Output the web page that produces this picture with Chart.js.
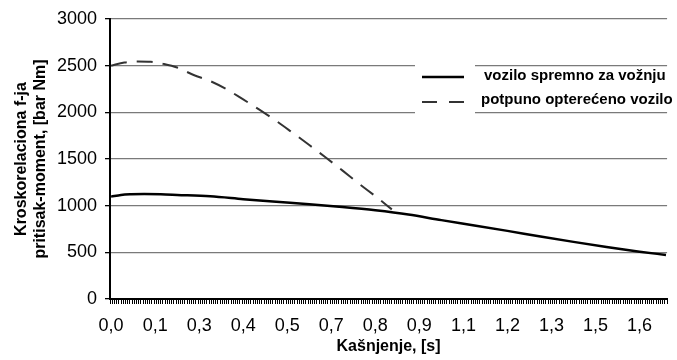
<!DOCTYPE html>
<html>
<head>
<meta charset="utf-8">
<script src="https://cdn.jsdelivr.net/npm/chart.js@4/dist/chart.umd.min.js"></script>
<style>
  html, body { margin: 0; padding: 0; background: #fff; }
  #wrap { width: 677px; height: 360px; }
</style>
</head>
<body>
<div id="wrap"><canvas id="corr"></canvas></div>
<script>
// Cross-correlation of pressure vs. moment over lag time
const seriesNames = ['vozilo spremno za vožnju', 'potpuno opterećeno vozilo'];

// vehicle ready to drive (solid)
const readyTime  = [0, 0.03, 0.06, 0.10, 0.15, 0.20, 0.30, 0.40, 0.50, 0.60, 0.70, 0.80, 0.90, 1.00, 1.10, 1.20, 1.30, 1.40, 1.50, 1.60, 1.68];
const readyValue = [1097, 1115, 1122, 1125, 1122, 1115, 1100, 1070, 1042, 1015, 985, 950, 905, 845, 788, 730, 670, 612, 557, 507, 472];

// fully loaded vehicle (dashed)
const loadedTime  = [0, 0.04, 0.08, 0.12, 0.16, 0.20, 0.25, 0.30, 0.35, 0.40, 0.45, 0.50, 0.55, 0.60, 0.65, 0.70, 0.75, 0.80, 0.85];
const loadedValue = [2500, 2533, 2545, 2542, 2518, 2480, 2400, 2335, 2246, 2138, 2026, 1908, 1780, 1650, 1516, 1378, 1237, 1102, 960];

// lag axis: samples every 1/150 s, a label on every 20th sample
const xTickLabels = ['0,0', '0,1', '0,3', '0,4', '0,5', '0,7', '0,8', '0,9', '1,1', '1,2', '1,3', '1,5', '1,6'];
const sampleStep = 1 / 150;
const sampleCount = 253;
const labelEvery = 20;
const yTicks = [0, 500, 1000, 1500, 2000, 2500, 3000];

const sampleLabels = [];
for (let i = 0; i < sampleCount; i++) {
  sampleLabels.push(i % labelEvery === 0 ? xTickLabels[i / labelEvery] : '');
}

const toPoints = (xs, ys) => xs.map((x, i) => ({ x: x, y: ys[i] }));

const FONT = "'Liberation Sans', Arial, sans-serif";

// legend sits inside the plot, on a white patch over the grid
const legendPlugin = {
  id: 'insideLegend',
  afterDraw(chart) {
    const ctx = chart.ctx;
    ctx.save();
    ctx.fillStyle = '#fff';
    ctx.fillRect(415, 60, 60, 58);

    ctx.strokeStyle = '#000';
    ctx.lineWidth = 2.5;
    ctx.beginPath();
    ctx.moveTo(422, 77);
    ctx.lineTo(464, 77);
    ctx.stroke();

    ctx.strokeStyle = '#333';
    ctx.lineWidth = 2;
    ctx.setLineDash([15, 12]);
    ctx.beginPath();
    ctx.moveTo(422, 102);
    ctx.lineTo(464, 102);
    ctx.stroke();
    ctx.setLineDash([]);

    ctx.fillStyle = '#000';
    ctx.font = 'bold 15px ' + FONT;
    ctx.textBaseline = 'middle';
    ctx.fillText(seriesNames[0], 484, 76);
    ctx.fillText(seriesNames[1], 481, 100);
    ctx.restore();
  }
};

new Chart(document.getElementById('corr'), {
  type: 'line',
  data: {
    datasets: [
      {
        label: seriesNames[0],
        data: toPoints(readyTime, readyValue),
        borderColor: '#000',
        borderWidth: 2.5,
        pointRadius: 0,
        cubicInterpolationMode: 'monotone',
        xAxisID: 'x'
      },
      {
        label: seriesNames[1],
        data: toPoints(loadedTime, loadedValue),
        borderColor: '#333',
        borderWidth: 2,
        borderDash: [16, 10],
        pointRadius: 0,
        cubicInterpolationMode: 'monotone',
        xAxisID: 'x'
      }
    ]
  },
  options: {
    responsive: true,
    maintainAspectRatio: false,
    animation: false,
    layout: { padding: { top: 19, right: 1, left: 0, bottom: 0 } },
    plugins: {
      legend: { display: false },
      tooltip: { enabled: false }
    },
    scales: {
      x: {
        type: 'linear',
        display: false,
        min: -sampleStep / 2,
        max: (sampleCount - 1) * sampleStep + sampleStep / 2
      },
      lag: {
        type: 'category',
        position: 'bottom',
        labels: sampleLabels,
        offset: true,
        grid: {
          offset: true,
          drawOnChartArea: false,
          drawTicks: true,
          tickLength: 5,
          tickColor: '#000',
          lineWidth: 1
        },
        border: { color: '#000', width: 2 },
        ticks: {
          autoSkip: false,
          maxRotation: 0,
          minRotation: 0,
          padding: 11,
          color: '#000',
          font: { family: FONT, size: 18 }
        },
        title: {
          display: true,
          text: 'Kašnjenje, [s]',
          color: '#000',
          font: { family: FONT, size: 16, weight: 'bold' },
          padding: { top: 0, bottom: 4 }
        },
        afterFit(scale) { scale.height = 61; }
      },
      y: {
        min: 0,
        max: 3000,
        afterBuildTicks(scale) { scale.ticks = yTicks.map(v => ({ value: v })); },
        grid: {
          color: '#7a7a7a',
          lineWidth: 1.3,
          tickLength: 5,
          tickColor: '#000'
        },
        border: { color: '#000', width: 2 },
        ticks: {
          padding: 8,
          color: '#000',
          font: { family: FONT, size: 18 },
          callback: v => String(v)
        },
        title: {
          display: true,
          text: ['Kroskorelaciona f-ja', 'pritisak-moment, [bar Nm]'],
          color: '#000',
          font: { family: FONT, size: 16, weight: 'bold' },
          padding: { top: 12, bottom: 0 }
        },
        afterFit(scale) { scale.width = 110; }
      }
    }
  },
  plugins: [legendPlugin]
});
</script>
</body>
</html>
